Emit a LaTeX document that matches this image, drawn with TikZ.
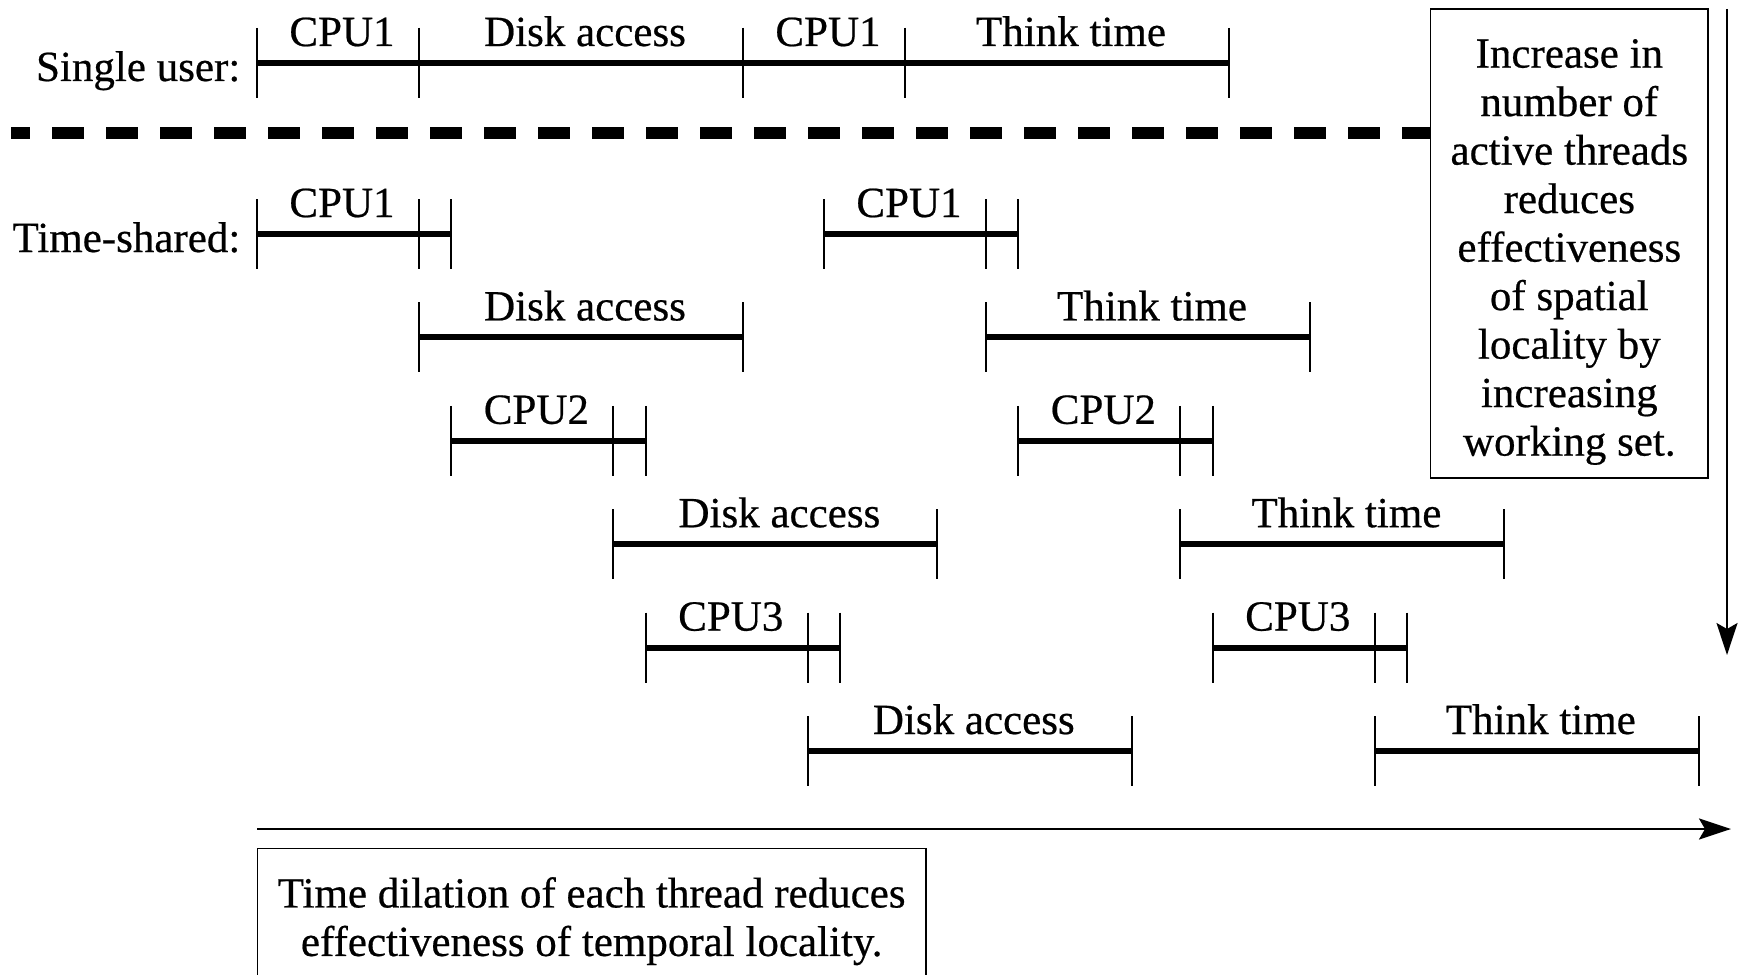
\documentclass[tikz,border=0pt]{standalone}
\usepackage{fontspec}
\setmainfont[FakeBold=0.5]{Liberation Serif}
\usetikzlibrary{arrows.meta,calc}
\tikzset{
  bar/.style={line width=3pt},
  tickline/.style={line width=1pt},
  txt/.style={inner sep=0pt, font=\fontsize{21.5pt}{24.25pt}\selectfont},
  seglabel/.style={txt, anchor=base},
  rowlabel/.style={txt, anchor=base east},
  box/.style={draw, line width=0.8pt, inner sep=0pt},
  boxtext/.style={txt, align=center},
  arr/.style={line width=1pt, -{Stealth[length=16pt,width=10.5pt,inset=3pt]}},
  sep/.style={line width=5.7pt, dash pattern=on 16pt off 11pt, dash phase=6.5pt},
}
\newcommand\tlseg[6]{%
  \coordinate (#1a) at ({257+32.4*(#3)},#2);
  \coordinate (#1b) at ({257+32.4*(#4)},#2);
  \draw[bar] (#1a) -- (#1b);
  \draw[tickline] (#1a) ++(0,-35) -- ++(0,70);
  \draw[tickline] (#1b) ++(0,-35) -- ++(0,70);
  \node[seglabel] (#1l) at ($(#1a)!0.5!(#1b)+(4,-17)$) {#6};
  \if\relax\detokenize{#5}\relax\else
    \coordinate (#1c) at ({257+32.4*(#5)},#2);
    \draw[bar] (#1b) -- (#1c);
    \draw[tickline] (#1c) ++(0,-35) -- ++(0,70);
  \fi
}
\begin{document}
\begin{tikzpicture}[x=0.5pt,y=-0.5pt]
\useasboundingbox (0,0) rectangle (1739,974);
\clip (0,0) rectangle (1739,974);
% single user
\node[rowlabel] (single) at (240.7,81) {Single user:};
\tlseg{sa}{63}{0}{5}{}{CPU1}
\tlseg{sb}{63}{5}{15}{}{Disk access}
\tlseg{sc}{63}{15}{20}{}{CPU1}
\tlseg{sd}{63}{20}{30}{}{Think time}
% right box
\node[box, minimum width=138.7pt, minimum height=234.5pt] (spatial) at (1569.3,243.5) {};
\node[boxtext] (spatialtxt) at (1569.3,252) {Increase in\\number of\\active threads\\reduces\\effectiveness\\of spatial\\locality by\\increasing\\working set.};
% dashed separator
\coordinate (dl) at (11,133);
\draw[sep] (dl) -- (spatial.west |- dl);
% time-shared
\node[rowlabel] (shared) at (240.7,252) {Time-shared:};
\tlseg{ta}{234}{0}{5}{6}{CPU1}
\tlseg{tb}{234}{17.5}{22.5}{23.5}{CPU1}
\tlseg{tc}{337.4}{5}{15}{}{Disk access}
\tlseg{td}{337.4}{22.5}{32.5}{}{Think time}
\tlseg{te}{440.8}{6}{11}{12}{CPU2}
\tlseg{tf}{440.8}{23.5}{28.5}{29.5}{CPU2}
\tlseg{tg}{544.2}{11}{21}{}{Disk access}
\tlseg{th}{544.2}{28.5}{38.5}{}{Think time}
\tlseg{ti}{647.6}{12}{17}{18}{CPU3}
\tlseg{tj}{647.6}{29.5}{34.5}{35.5}{CPU3}
\tlseg{tk}{751}{17}{27}{}{Disk access}
\tlseg{tl}{751}{34.5}{44.5}{}{Think time}
% arrows
\coordinate (vtop) at (1727,9);
\coordinate (vend) at (1727,655);
\draw[arr] (vtop) -- (vend);
\coordinate (hstart) at (257,829);
\coordinate (hend) at (1731,829);
\draw[arr, line width=1.3pt] (hstart) -- (hend);
% bottom box
\node[box, minimum width=334.35pt, minimum height=100.75pt] (temporal) at (591.65,949.25) {};
\node[boxtext] (temporaltxt) at (591.65,921.2) {Time dilation of each thread reduces\\effectiveness of temporal locality.};
\end{tikzpicture}
\end{document}
